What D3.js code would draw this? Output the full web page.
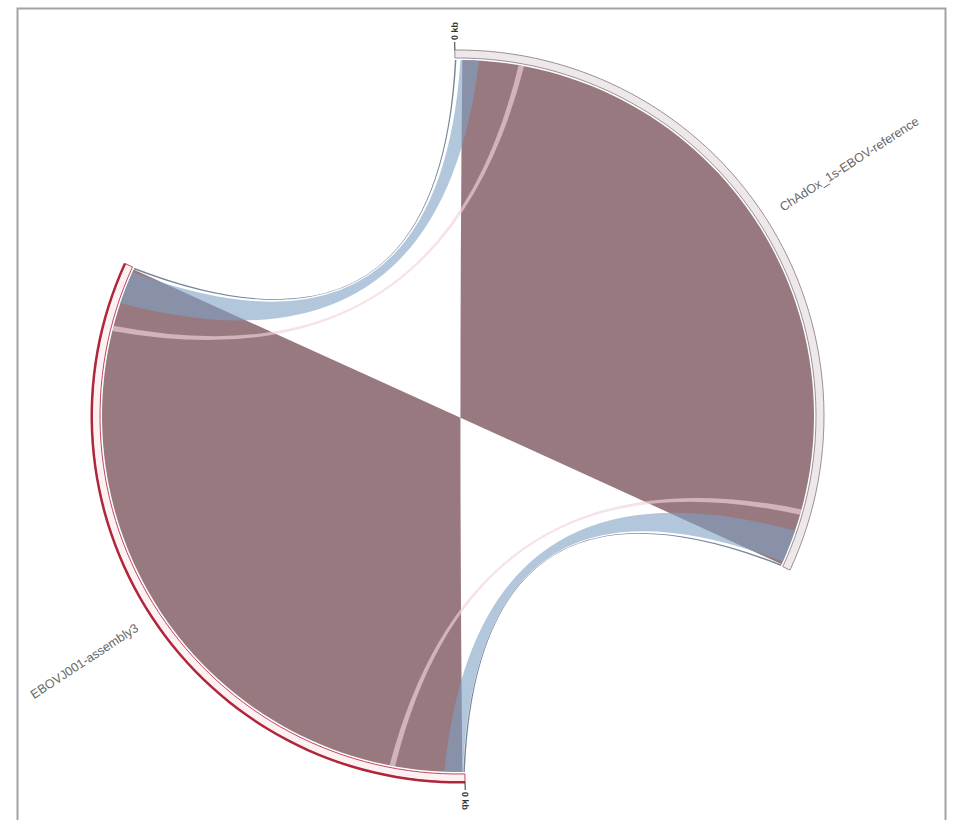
<!DOCTYPE html>
<html>
<head>
<meta charset="utf-8">
<script src="https://cdn.jsdelivr.net/npm/d3@7"></script>
<style>
  body { margin: 0; background: #fff; }
  svg { display: block; }
  text { font-family: "Liberation Sans", Arial, sans-serif; }
</style>
</head>
<body>
<svg width="956" height="820"></svg>
<script>
// genomes
var genomeNames = ["ChAdOx_1s-EBOV-reference", "EBOVJ001-assembly3"];
var genomeLengths = [19040, 19090];
var genomeStartDeg = [-0.5, 178.9];
var genomeTicks = ["0 kb", "0 kb"];

// alignment blocks (bp), reference -> assembly; asm start > asm end = inverted
var linkRefStart = [198, 149, 0, 1700, 18035, 19000, 17441];
var linkRefEnd   = [18992, 644, 40, 1848, 18909, 19040, 17589];
var linkAsmStart = [66, 18959, 19090, 17457, 545, 40, 2010];
var linkAsmEnd   = [19041, 18084, 19050, 17309, 50, 0, 1861];
var linkType     = ["main", "repeat", "edge", "minor", "repeat", "edge", "minor"];

var typeColor   = { main: "#744a53", repeat: "#7fa2c4", edge: "#4a5e7a", minor: "#f3d3da" };
var typeOpacity = { main: 0.74, repeat: 0.6, edge: 0.75, minor: 0.65 };

var svg = d3.select("svg"),
    width = +svg.attr("width"),
    height = +svg.attr("height");

var cx = 458, cy = 416, R = 356, bend = 0.12;
var degPerBp = 115.4 / 19040;

//frame
svg.append("rect")
  .attr("x", 17.5).attr("y", 8.5)
  .attr("width", 928).attr("height", 830)
  .attr("fill", "none")
  .attr("stroke", "#a3a3a3")
  .attr("stroke-width", 2);

var g = svg.append("g").attr("transform", "translate(" + cx + "," + cy + ")");

//one angle scale per genome
var angle = genomeLengths.map(function(len, i) {
  var a0 = genomeStartDeg[i] * Math.PI / 180;
  return d3.scaleLinear().domain([0, len]).range([a0, a0 + len * degPerBp * Math.PI / 180]);
});

function pt(a) { return [R * Math.sin(a), -R * Math.cos(a)]; }

//quadratic link pulled towards the centre
function ctrl(a, b) {
  var p = pt(a), q = pt(b);
  return [bend * (p[0] + q[0]) / 2, bend * (p[1] + q[1]) / 2];
}

function ribbon(a0, a1, b0, b1) {
  var p = d3.path(), h = Math.PI / 2;
  var s = pt(a0), e = pt(b1), c;
  p.moveTo(s[0], s[1]);
  p.arc(0, 0, R, a0 - h, a1 - h, a1 < a0);
  c = ctrl(a1, b1);
  p.quadraticCurveTo(c[0], c[1], e[0], e[1]);
  p.arc(0, 0, R, b1 - h, b0 - h, b0 < b1);
  c = ctrl(b0, a0);
  p.quadraticCurveTo(c[0], c[1], s[0], s[1]);
  p.closePath();
  return p.toString();
}

var links = linkType.map(function(t, i) {
  return {
    type: t,
    a0: angle[0](linkRefStart[i]), a1: angle[0](linkRefEnd[i]),
    b0: angle[1](linkAsmStart[i]), b1: angle[1](linkAsmEnd[i])
  };
});

g.selectAll("path.link")
  .data(links)
  .enter().append("path")
    .attr("class", "link")
    .attr("d", function(d) { return ribbon(d.a0, d.a1, d.b0, d.b1); })
    .attr("fill", function(d) { return typeColor[d.type]; })
    .attr("fill-opacity", function(d) { return typeOpacity[d.type]; });

//genome rings
var ring = d3.arc().innerRadius(R + 2).outerRadius(R + 10);
var groups = genomeNames.map(function(name, i) {
  var r = angle[i].range();
  return { name: name, index: i, startAngle: r[0], endAngle: r[1] };
});

g.selectAll("path.ring")
  .data(groups)
  .enter().append("path")
    .attr("class", "ring")
    .attr("d", ring)
    .attr("fill", function(d) { return d.index ? "#fdf1f3" : "#eee8ea"; })
    .attr("stroke", function(d) { return d.index ? "#c0485a" : "#9a9195"; })
    .attr("stroke-width", 1);

g.append("path")
  .attr("d", d3.arc().innerRadius(R + 9).outerRadius(R + 11.5)(groups[1]))
  .attr("fill", "#b0263a");

//ticks at position 0
var tick = g.selectAll("g.tick")
  .data(groups)
  .enter().append("g")
    .attr("class", "tick")
    .attr("transform", function(d) {
      return "rotate(" + (d.startAngle * 180 / Math.PI - 90) + ")";
    });

tick.append("line")
  .attr("x1", R + 10).attr("x2", R + 18)
  .attr("stroke", "#333").attr("stroke-width", 1);

tick.append("text")
  .attr("x", R + 20)
  .attr("dy", "0.35em")
  .attr("font-size", 9)
  .attr("font-weight", "bold")
  .attr("fill", "#333")
  .text(function(d) { return genomeTicks[d.index]; });

//genome labels
g.selectAll("text.label")
  .data(groups)
  .enter().append("text")
    .attr("class", "label")
    .each(function(d) {
      var mid = (d.startAngle + d.endAngle) / 2 * 180 / Math.PI;
      var flip = mid > 180;
      d3.select(this)
        .attr("transform", "rotate(" + (mid - 90) + ") translate(" + (R + 28) + ",0)" + (flip ? " rotate(180)" : ""))
        .attr("text-anchor", flip ? "end" : "start");
    })
    .attr("dy", "0.35em")
    .attr("font-size", 12.5)
    .attr("fill", "#666")
    .text(function(d) { return d.name; });
</script>
</body>
</html>
